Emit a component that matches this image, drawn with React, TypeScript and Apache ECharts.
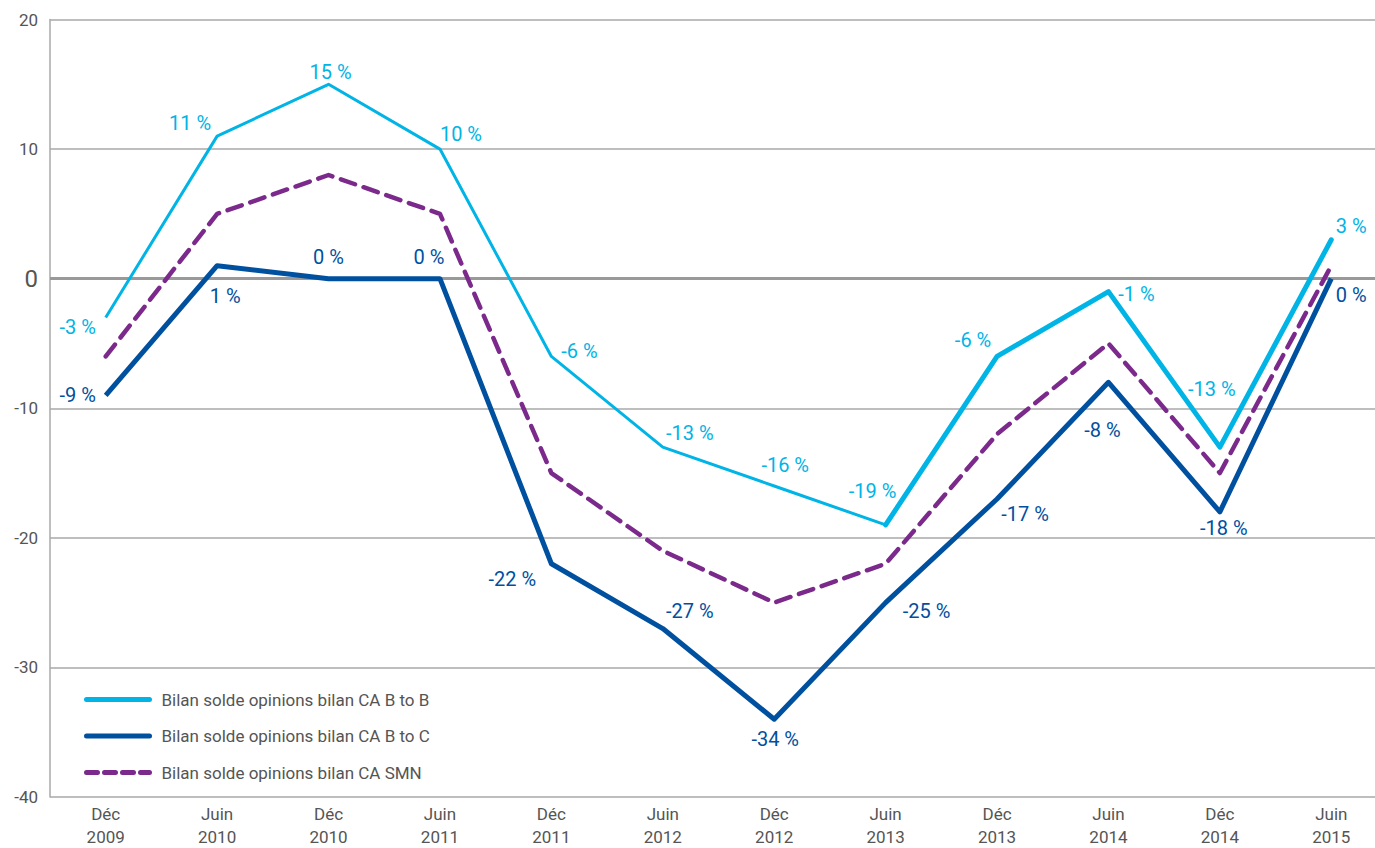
import React, { useEffect, useRef } from "react";
import * as echarts from "echarts";

const categories = [
  "Déc 2009", "Juin 2010", "Déc 2010", "Juin 2011", "Déc 2011", "Juin 2012",
  "Déc 2012", "Juin 2013", "Déc 2013", "Juin 2014", "Déc 2014", "Juin 2015",
];
const btobValues = [-3, 11, 15, 10, -6, -13, -16, -19, -6, -1, -13, 3];
const btocValues = [-9, 1, 0, 0, -22, -27, -34, -25, -17, -8, -18, 0];
const smnValues = [-6, 5, 8, 5, -15, -21, -25, -22, -12, -5, -15, 1];
const seriesNames = [
  "Bilan solde opinions bilan CA B to B",
  "Bilan solde opinions bilan CA B to C",
  "Bilan solde opinions bilan CA SMN",
];
const yTicks = { min: -40, max: 20, interval: 10 };

// label offsets (layout only)
const btobOffsets = [
  [-28, 9], [-27, -13], [2, -12], [21, -15], [28, -5], [27, -14],
  [11, -21], [-13, -34], [-24, -16], [28, 2], [-8, -58], [20, -14],
];
const btocOffsets = [
  [-28, 0], [8, 30], [0, -22], [-11, -22], [-39, 15], [27, -18],
  [1, 20], [41, 8], [28, 15], [-6, 48], [4, 16], [20, 16],
];
const thickFromIndex = 7;

const LIGHT = "#00b4e6";
const DARK = "#0050a0";
const PURPLE = "#7b2a8c";
const TEXT = "#555555";
const GRID = "#a8a8a8";
const FONT = "Roboto, 'Noto Sans', sans-serif";

export default function App() {
  const ref = useRef<HTMLDivElement>(null);
  useEffect(() => {
    if (!ref.current) return;
    const chart = echarts.init(ref.current, null, { renderer: "svg" });
    const fmt = (p: any) => `${p.value} %`;
    chart.setOption({
      animation: false,
      textStyle: { fontFamily: FONT },
      grid: { left: 50, right: 0, top: 19.5, bottom: 48 },
      legend: {
        orient: "vertical",
        left: 79,
        top: 686,
        itemWidth: 63,
        itemHeight: 14,
        itemGap: 19.5,
        itemStyle: { opacity: 0 },
        textStyle: { color: TEXT, fontSize: 17, fontFamily: FONT, padding: [0, 0, 0, 7] },
        data: [
          { name: seriesNames[0], lineStyle: { color: LIGHT, width: 5, cap: "round", type: "solid" } },
          { name: seriesNames[1], lineStyle: { color: DARK, width: 5, cap: "round", type: "solid" } },
          { name: seriesNames[2], lineStyle: { color: PURPLE, width: 5, cap: "round", type: [11, 7] } },
        ],
      },
      xAxis: {
        type: "category",
        data: categories,
        boundaryGap: true,
        axisTick: { show: false },
        axisLine: { show: false },
        axisLabel: {
          color: TEXT,
          fontSize: 17,
          lineHeight: 23,
          margin: 5,
          interval: 0,
          fontFamily: FONT,
          formatter: (v: string) => v.replace(" ", "\n"),
        },
      },
      yAxis: {
        type: "value",
        min: yTicks.min,
        max: yTicks.max,
        interval: yTicks.interval,
        axisLine: { show: true, lineStyle: { color: GRID, width: 1.5 } },
        axisTick: { show: false },
        splitLine: { lineStyle: { color: GRID, width: 1.5 } },
        axisLabel: {
          color: TEXT,
          fontSize: 17,
          margin: 12,
          fontFamily: FONT,
          formatter: (v: number) => (v === 0 ? "{z|0}" : String(v)),
          rich: { z: { fontSize: 24, color: TEXT, fontFamily: FONT } },
        },
      },
      series: [
        {
          name: seriesNames[2],
          type: "line",
          data: smnValues,
          symbol: "circle",
          symbolSize: 0,
          lineStyle: { color: PURPLE, width: 4.5, type: [15, 9], cap: "round", join: "round" },
          itemStyle: { color: PURPLE },
          z: 3,
          markLine: {
            silent: true,
            symbol: "none",
            label: { show: false },
            lineStyle: { color: "#999999", width: 3, type: "solid" },
            data: [{ yAxis: 0 }],
            z: 1,
          },
        },
        {
          name: seriesNames[1],
          type: "line",
          data: btocValues.map((v, i) => ({
            value: v,
            label: { offset: btocOffsets[i] },
          })),
          symbol: "circle",
          symbolSize: 0,
          lineStyle: { color: DARK, width: 5, join: "round" },
          itemStyle: { color: DARK },
          z: 4,
          label: {
            show: true,
            position: "inside",
            color: DARK,
            fontSize: 20,
            fontFamily: FONT,
            formatter: fmt,
          },
        },
        {
          name: seriesNames[0],
          type: "line",
          data: btobValues.map((v, i) => ({
            value: v,
            label: { offset: btobOffsets[i] },
          })),
          symbol: "circle",
          symbolSize: 0,
          lineStyle: { color: LIGHT, width: 3, join: "round" },
          itemStyle: { color: LIGHT },
          z: 5,
          label: {
            show: true,
            position: "inside",
            color: LIGHT,
            fontSize: 20,
            fontFamily: FONT,
            formatter: fmt,
          },
        },
        {
          name: seriesNames[0],
          type: "line",
          data: btobValues.map((v, i) => (i >= thickFromIndex ? v : "-")),
          symbol: "none",
          lineStyle: { color: LIGHT, width: 5, join: "round", cap: "round" },
          itemStyle: { color: LIGHT },
          z: 5,
        },
      ],
    });
    return () => chart.dispose();
  }, []);
  return (
    <div
      style={{ position: "absolute", left: 0, top: 0, width: 1375, height: 848, overflow: "hidden", background: "#fff" }}
    >
      <div ref={ref} style={{ width: 1387, height: 848 }} />
    </div>
  );
}
